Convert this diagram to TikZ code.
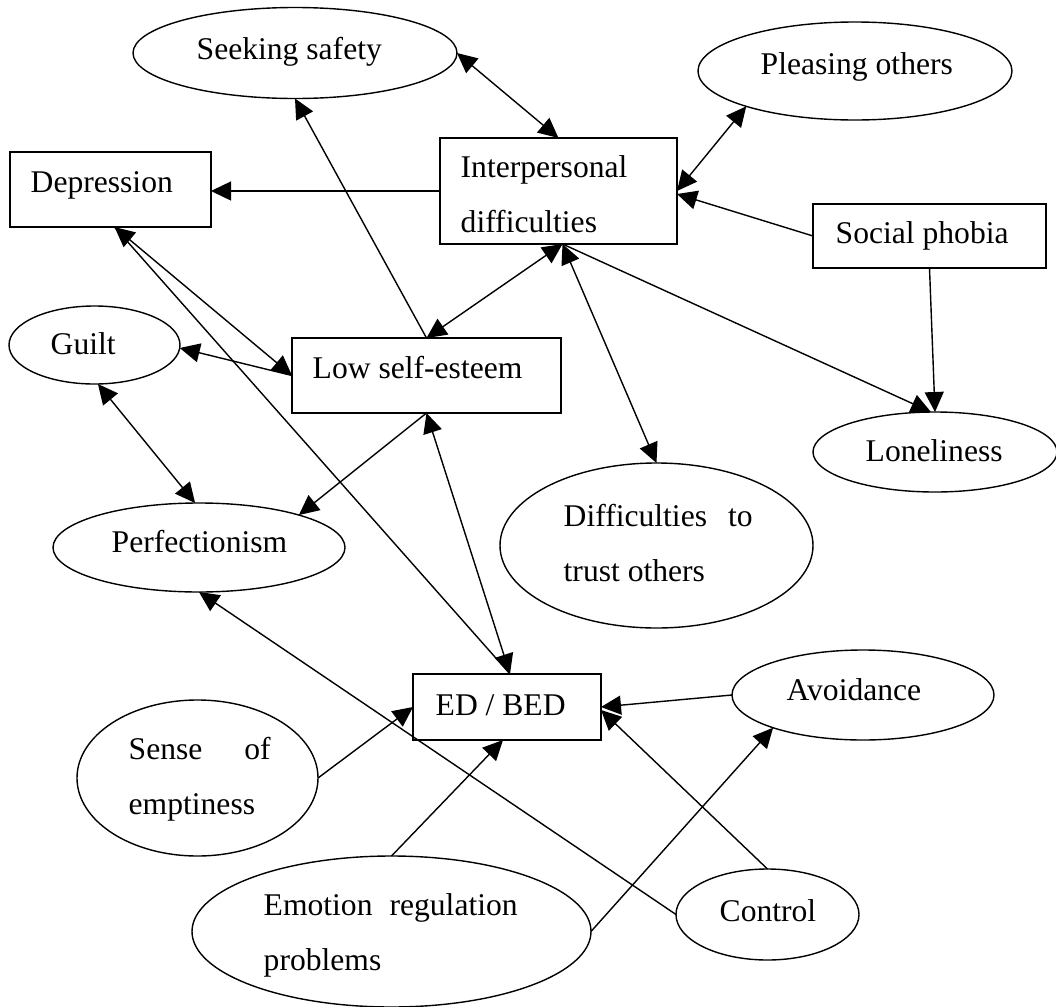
\documentclass[tikz,border=0pt]{standalone}
\usepackage{fontspec}
\setmainfont{Liberation Serif}
\usetikzlibrary{shapes.geometric,arrows.meta}

\begin{document}
\begin{tikzpicture}[x=0.5pt,y=-0.5pt,line width=0.7pt,
  box/.style={draw,rectangle,inner sep=0pt,outer sep=0pt},
  oval/.style={draw,ellipse,inner sep=0pt,outer sep=0pt},
  txt/.style={anchor=base west,inner sep=0pt,align=left,font=\fontsize{15.8}{27.2}\selectfont},
  oneway/.style={-{Triangle[length=10pt,width=9.5pt]}},
  twoway/.style={{Triangle[length=10pt,width=9.5pt]}-{Triangle[length=10pt,width=9.5pt]}}]
  \useasboundingbox (0,0) rectangle (1056,1007);

  \node[oval,minimum width=162pt,minimum height=45.5pt] (seek) at (295,53) {};
  \node[oval,minimum width=157pt,minimum height=49pt] (please) at (855,71) {};
  \node[box,minimum width=100.5pt,minimum height=37.5pt] (dep) at (110.5,189.5) {};
  \node[box,minimum width=118.5pt,minimum height=53pt] (inter) at (558.5,191) {};
  \node[box,minimum width=116.5pt,minimum height=32pt] (soc) at (929.5,236) {};
  \node[oval,minimum width=85.5pt,minimum height=39pt] (guilt) at (94.5,345) {};
  \node[box,minimum width=134.5pt,minimum height=37.5pt] (lse) at (426.5,375.5) {};
  \node[oval,minimum width=122pt,minimum height=40pt] (lonely) at (935,452) {};
  \node[oval,minimum width=156.5pt,minimum height=82.5pt] (trust) at (656.5,545.5) {};
  \node[oval,minimum width=146pt,minimum height=44.5pt] (perf) at (199,547.5) {};
  \node[box,minimum width=94pt,minimum height=33pt] (edbed) at (507,707) {};
  \node[oval,minimum width=131pt,minimum height=45pt] (avoid) at (863,695) {};
  \node[oval,minimum width=120.5pt,minimum height=78pt] (sense) at (197.5,778) {};
  \node[oval,minimum width=199.5pt,minimum height=75.5pt] (emo) at (391.5,931.5) {};
  \node[oval,minimum width=91.5pt,minimum height=45.5pt] (control) at (767.5,914.5) {};

  \node[txt] (seek-t) at (196,59) {Seeking safety};
  \node[txt] (please-t) at (760,74) {Pleasing others};
  \node[txt] (dep-t) at (30,192) {Depression};
  \node[txt] (inter-t) at (460,232) {Interpersonal\\difficulties};
  \node[txt] (soc-t) at (835,243) {Social phobia};
  \node[txt] (guilt-t) at (50,354) {Guilt};
  \node[txt] (lse-t) at (312,378) {Low self-esteem};
  \node[txt] (lonely-t) at (865,461) {Loneliness};
  \node[txt] (trust-t) at (563,581) {\makebox[94.5pt][s]{Difficulties to}\\trust others};
  \node[txt] (perf-t) at (111,552) {Perfectionism};
  \node[txt] (edbed-t) at (435,715) {ED / BED};
  \node[txt] (avoid-t) at (786,700) {Avoidance};
  \node[txt] (sense-t) at (128,814) {\makebox[71pt][s]{Sense of}\\emptiness};
  \node[txt] (emo-t) at (263,970) {\makebox[127pt][s]{Emotion regulation}\\problems};
  \node[txt] (control-t) at (719,921) {Control};

  \coordinate (inter-s) at ([xshift=2pt]inter.south);
  \coordinate (dep-s) at ([xshift=2pt]dep.south);
  \coordinate (edbed-n) at ([xshift=1.5pt]edbed.north);

  \draw[oneway] (inter.west) -- (inter.west -| dep.east);
  \draw[twoway] (seek.east) -- (inter.north);
  \draw[oneway] (lse.north) -- (seek.south);
  \draw[twoway] (please.198) -- (inter.east);
  \draw[oneway] (soc.west) -- ([yshift=-1.5pt]inter.east);
  \draw[twoway] (lse.north) -- (inter-s);
  \draw[twoway] (inter-s) -- (trust.north);
  \draw[oneway] (inter-s) -- ([xshift=-2pt]lonely.north);
  \draw[oneway] (soc.south) -- (lonely.north);
  \draw[twoway] (dep-s) -- (lse.west);
  \draw (dep-s) -- (edbed-n);
  \draw[oneway] (lse.west) -- (guilt.-2);
  \draw[twoway] (guilt.-85) -- (perf.95);
  \draw[oneway] (lse.south) -- (perf.18);
  \draw[twoway] (lse.south) -- (edbed-n);
  \draw[oneway] (sense.east) -- (edbed.west);
  \draw[oneway] (emo.north) -- ([xshift=-2pt]edbed.south);
  \draw[oneway] (emo.east) -- (avoid.200);
  \draw[oneway] (avoid.west) -- (edbed.east);
  \draw[oneway] (control.north) -- ([yshift=-1.5pt]edbed.east);
  \draw[oneway] (control.west) -- (perf.south);
\end{tikzpicture}
\end{document}
